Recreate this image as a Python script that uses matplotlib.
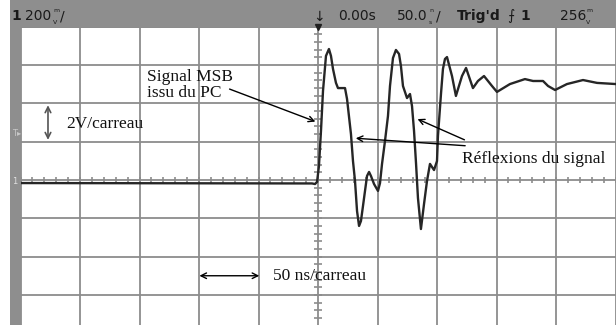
import matplotlib.pyplot as plt
import numpy as np

# trace: time in ns, voltage in V (2 V / div, 50 ns / div)
t_ns = [-250, -5.0, -2.5, -0.8, 0.8, 2.5, 4.2, 6.7, 9.2, 10.9, 12.6, 15.1, 16.8,
        22.7, 24.4, 26.0, 27.7, 29.4, 31.1, 32.8, 34.5, 36.1, 37.8, 39.5, 41.2,
        42.9, 44.5, 47.1, 50.4, 52.1, 53.8, 56.3, 58.8, 60.5, 63.0, 65.5, 68.1,
        69.7, 71.4, 74.8, 77.3, 79.0, 80.7, 82.4, 84.0, 86.5, 89.1, 91.6, 94.1,
        97.5, 100.0, 100.8, 103.4, 105.0, 106.7, 108.4, 112.6, 115.9, 121.0,
        124.4, 130.2, 134.4, 139.5, 146.2, 150.4, 161.3, 173.9, 180.7, 189.1,
        193.3, 199.2, 209.2, 222.7, 234.5, 250.4]
volts = [-0.16, -0.18, -0.21, -0.10, 0.73, 2.56, 4.65, 6.48, 6.84, 6.48, 5.80,
         5.07, 4.80, 4.80, 4.23, 3.34, 2.40, 0.99, -0.05, -1.62, -2.40, -2.14,
         -1.36, -0.57, 0.21, 0.42, 0.21, -0.21, -0.57, -0.16, 0.84, 2.04, 3.34,
         4.91, 6.37, 6.79, 6.58, 5.95, 4.91, 4.28, 4.49, 3.86, 2.56, 0.84, -0.94,
         -2.56, -1.25, -0.05, 0.84, 0.52, 0.99, 2.30, 4.54, 5.80, 6.32, 6.42,
         5.43, 4.39, 5.43, 5.85, 4.80, 5.17, 5.43, 4.91, 4.60, 5.01, 5.27, 5.17,
         5.17, 4.91, 4.70, 5.01, 5.22, 5.07, 5.01]

header_texts = ["1", "200", "0.00s", "50.0", "Trig'd", "1", "256"]

grid_col = '#8c8c8c'
bar_col = '#8e8e8e'
ink = '#1a1a1a'

fig = plt.figure(figsize=(6.16, 3.25), dpi=100)

# screen header and left strip
bg = fig.add_axes([0, 0, 1, 1])
bg.set_xlim(0, 616)
bg.set_ylim(325, 0)
bg.axis('off')
bg.add_patch(plt.Rectangle((10, 0), 606, 28, color=bar_col, lw=0))
bg.add_patch(plt.Rectangle((10, 28), 11, 297, color=bar_col, lw=0))
hdr = dict(fontsize=10, color=ink, va='center', family='DejaVu Sans')
small = dict(fontsize=4.5, color=ink, va='center', family='DejaVu Sans')
bg.text(11, 16, header_texts[0], fontweight='bold', **hdr)
bg.text(25, 16, header_texts[1], **hdr)
bg.text(53, 10.5, 'm', **small)
bg.text(53, 22, 'V', **small)
bg.text(60, 16, '/', **hdr)
bg.text(313, 17, '\u2193', fontsize=10, color=ink, va='center')
bg.text(338, 16, header_texts[2], **hdr)
bg.text(397, 16, header_texts[3], **hdr)
bg.text(429, 10.5, 'n', **small)
bg.text(429, 22, 's', **small)
bg.text(436, 16, '/', **hdr)
bg.text(457, 16, header_texts[4], fontweight='bold', **hdr)
bg.text(507, 16, '\u2a0d', fontsize=10, color=ink, va='center', family='DejaVu Sans')
bg.text(520, 16, header_texts[5], fontweight='bold', **hdr)
bg.text(560, 16, header_texts[6], **hdr)
bg.text(586, 10.5, 'm', **small)
bg.text(586, 22, 'V', **small)
bg.text(12, 133, 'T\u25b8', fontsize=6, color='#c8c8c8', va='center')
bg.text(12, 182, '1', fontsize=6, color='#e0e0e0', va='center')

# scope graticule
ax = fig.add_axes([20.5 / 616, -8.2 / 325, 595 / 616, 306.4 / 325])
ax.set_xlim(-250, 250)
ax.set_ylim(-8, 8)
ax.axis('off')
for x in np.arange(-250, 251, 50):
    ax.axvline(x, color=grid_col, lw=1.3)
for y in np.arange(-8, 9, 2):
    ax.axhline(y, color=grid_col, lw=1.3)
mx = np.arange(-250, 251, 10)
ax.vlines(mx, -0.16, 0.16, color=grid_col, lw=1.2)
my = np.arange(-8, 8.01, 0.4)
ax.hlines(my, -3, 3, color=grid_col, lw=1.2)
ax.plot([0], [8], marker='v', color='#202020', ms=5, clip_on=False)

ax.plot(t_ns, volts, color='#262626', lw=1.7)

serif = dict(family='Liberation Serif', fontsize=12.5, color='#111111')
ax.text(-211.6, 2.92, '2V/carreau', va='center', **serif)
ax.annotate('', xy=(-226.9, 4.05), xytext=(-226.9, 1.95),
            arrowprops=dict(arrowstyle='<->', color='#555555', lw=1.2))
ax.text(-143.7, 4.96, 'Signal MSB\nissu du PC', va='center', linespacing=1.05, **serif)
ax.annotate('', xy=(0, 3.0), xytext=(-76.5, 4.8),
            arrowprops=dict(arrowstyle='->', color='black', lw=1))
ax.text(121, 1.1, 'R\u00e9flexions du signal', va='center', **serif)
ax.annotate('', xy=(81.5, 3.24), xytext=(125.2, 2.04),
            arrowprops=dict(arrowstyle='->', color='black', lw=1))
ax.annotate('', xy=(29.4, 2.19), xytext=(126, 1.78),
            arrowprops=dict(arrowstyle='->', color='black', lw=1))
ax.text(-37.8, -5.0, '50 ns/carreau', va='center', **serif)
ax.annotate('', xy=(-102, -5.0), xytext=(-47, -5.0),
            arrowprops=dict(arrowstyle='<->', color='black', lw=1))

fig.savefig('out.png', dpi=100)
